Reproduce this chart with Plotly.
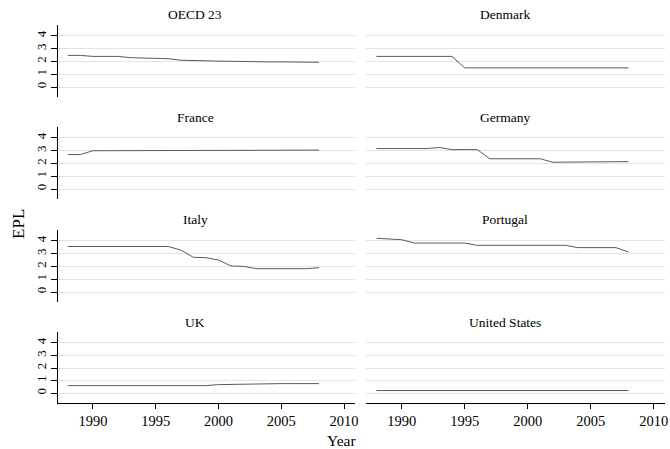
import plotly.graph_objects as go
from plotly.subplots import make_subplots

years = list(range(1988, 2009))

panels = ["OECD 23", "Denmark", "France", "Germany", "Italy", "Portugal", "UK", "United States"]

oecd23 = [2.48, 2.48, 2.40, 2.40, 2.40, 2.30, 2.27, 2.24, 2.22, 2.10, 2.06, 2.04,
          2.03, 2.02, 2.00, 1.95, 1.97, 1.97, 1.97, 1.97, 1.94]
denmark = [2.40, 2.40, 2.40, 2.40, 2.40, 2.40, 2.40, 1.50, 1.50, 1.50, 1.50, 1.50,
           1.50, 1.50, 1.50, 1.50, 1.50, 1.50, 1.50, 1.50, 1.50]
france = [2.70, 2.70, 3.00, 3.00, 3.00, 3.00, 3.00, 3.00, 3.00, 3.00, 3.00, 3.00,
          3.00, 3.05, 3.05, 3.05, 3.05, 3.05, 3.05, 3.05, 3.05]
germany = [3.17, 3.17, 3.17, 3.17, 3.17, 3.25, 3.09, 3.09, 3.09, 2.37, 2.37, 2.37,
           2.37, 2.37, 2.10, 2.10, 2.15, 2.15, 2.15, 2.15, 2.15]
italy = [3.57, 3.57, 3.57, 3.57, 3.57, 3.57, 3.57, 3.57, 3.57, 3.29, 2.72, 2.69,
         2.51, 2.04, 2.01, 1.83, 1.83, 1.83, 1.83, 1.83, 1.91]
portugal = [4.21, 4.13, 4.10, 3.84, 3.84, 3.84, 3.84, 3.84, 3.66, 3.66, 3.66, 3.66,
            3.66, 3.66, 3.66, 3.66, 3.48, 3.48, 3.48, 3.48, 3.14]
uk = [0.60, 0.60, 0.60, 0.60, 0.60, 0.60, 0.60, 0.60, 0.60, 0.60, 0.60, 0.60,
      0.68, 0.70, 0.76, 0.76, 0.76, 0.76, 0.76, 0.76, 0.76]
us = [0.21] * 21

series = [oecd23, denmark, france, germany, italy, portugal, uk, us]

y_ticks = [0, 1, 2, 3, 4]
x_ticks = [1990, 1995, 2000, 2005, 2010]

W, H = 670, 449
FONT = "Liberation Serif"

fig = make_subplots(rows=4, cols=2)

col_px = [(58, 357), (368, 668)]
row_px = [(25, 97), (127, 199), (230, 302), (332, 403)]
title_x_px = [196, 507]
title_y_px = [15, 117, 220, 322]

for i, (name, vals) in enumerate(zip(panels, series)):
    r, c = i // 2 + 1, i % 2 + 1
    fig.add_trace(go.Scatter(x=years, y=vals, mode="lines",
                             line=dict(color="#5a5a5a", width=1),
                             showlegend=False, hoverinfo="x+y"), row=r, col=c)
    x0, x1 = col_px[c - 1]
    y0, y1 = row_px[r - 1]
    fig.update_xaxes(domain=[x0 / W, x1 / W], range=[1987.2, 2010.9],
                     showgrid=False, zeroline=False,
                     tickvals=x_ticks,
                     showticklabels=(r == 4), showline=(r == 4),
                     linecolor="black", linewidth=1,
                     ticks="outside" if r == 4 else "", ticklen=5, tickcolor="black",
                     ticklabeloverflow="allow",
                     tickfont=dict(family=FONT, size=14.5, color="black"),
                     row=r, col=c)
    fig.update_yaxes(domain=[1 - y1 / H, 1 - y0 / H], range=[-0.78, 4.86],
                     showgrid=True, gridcolor="#e3e3e3", gridwidth=1,
                     zeroline=False, tickvals=y_ticks,
                     showticklabels=(c == 1), showline=(c == 1),
                     linecolor="black", linewidth=1,
                     ticks="outside" if c == 1 else "", ticklen=6, tickcolor="black",
                     tickangle=-90,
                     tickfont=dict(family=FONT, size=13, color="black"),
                     row=r, col=c)
    fig.add_annotation(text=name, xref="paper", yref="paper",
                       x=title_x_px[c - 1] / W, y=1 - title_y_px[r - 1] / H,
                       xanchor="center", yanchor="middle", showarrow=False,
                       font=dict(family=FONT, size=13.5, color="black"))

fig.add_annotation(text="EPL", xref="paper", yref="paper", x=18 / W, y=1 - 224 / H,
                   textangle=-90, xanchor="center", yanchor="middle", showarrow=False,
                   font=dict(family=FONT, size=17, color="black"))
fig.add_annotation(text="Year", xref="paper", yref="paper", x=343 / W, y=1 - 440 / H,
                   xanchor="center", yanchor="middle", showarrow=False,
                   font=dict(family=FONT, size=15.5, color="black"))

fig.update_layout(width=W, height=H, margin=dict(l=0, r=0, t=0, b=0),
                  paper_bgcolor="white", plot_bgcolor="white",
                  font=dict(family=FONT, color="black"))

fig.write_html("out.html", config={"displayModeBar": False},
               post_script="document.body.style.margin='0';document.body.style.overflow='hidden';")
